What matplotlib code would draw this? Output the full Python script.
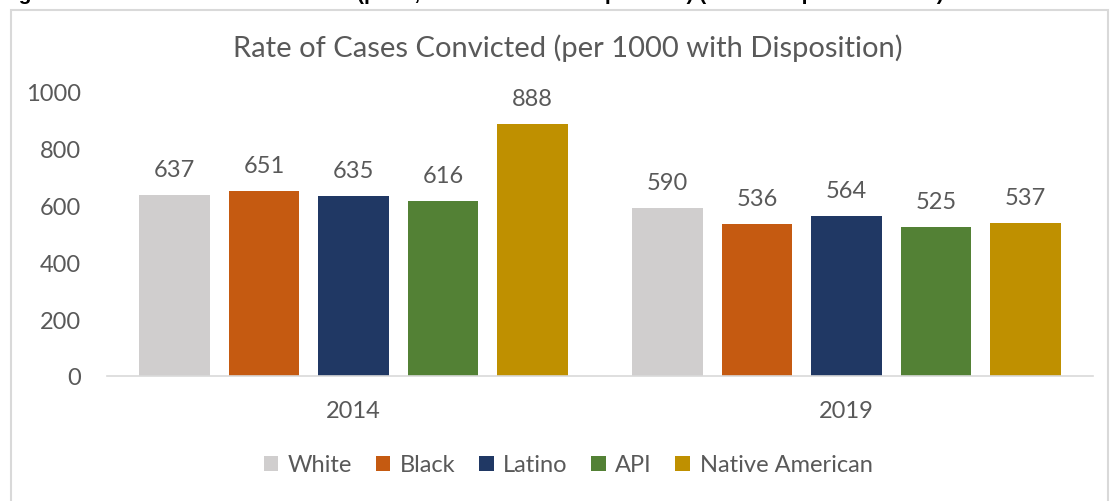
import matplotlib.pyplot as plt
import matplotlib.patches as mpatches
import numpy as np

years = ["2014", "2019"]
groups = ["White", "Black", "Latino", "API", "Native American"]
rates = {
    "White": [637, 590],
    "Black": [651, 536],
    "Latino": [635, 564],
    "API": [616, 525],
    "Native American": [888, 537],
}
colors = ["#D0CECE", "#C55A11", "#203864", "#538135", "#BF9000"]

plt.rcParams['font.family'] = ['Lato', 'DejaVu Sans']
text_color = "#595959"

fig = plt.figure(figsize=(11.1, 5.02), dpi=100)
ax = fig.add_axes([107 / 1110, 1 - 377 / 502, 986 / 1110, 284 / 502])

# outer chart border (Excel style)
fig.patches.append(mpatches.Rectangle((11 / 1110, -0.05), 1097 / 1110, 1 - 11 / 502 + 0.05,
                                      transform=fig.transFigure, fill=False,
                                      edgecolor="#D9D9D9", linewidth=1.5))

# document caption above the chart, cut off by the page edge as in the source
fig.text(0.0, 1 + 6 / 502, "Figure 23: Rate of Cases Convicted (per 1,000 cases with Disposition) (2014 compared to 2019)",
         fontsize=15, fontweight='bold', color='black', va='center', ha='left',
         family=['Liberation Sans', 'DejaVu Sans'])

x = np.arange(len(years))
step = 0.1815
width = 0.143
for i, (g, c) in enumerate(zip(groups, colors)):
    pos = x + (i - 2) * step
    bars = ax.bar(pos, rates[g], width=width, color=c, label=g)
    for b, v in zip(bars, rates[g]):
        ax.text(b.get_x() + b.get_width() / 2, v + 67, str(v), ha='center', va='baseline',
                fontsize=17, color=text_color, clip_on=False)

ax.set_xlim(-0.5, 1.5)
ax.set_ylim(0, 1000)
ax.set_yticks(range(0, 1001, 200))
ax.set_xticks(x)
ax.set_xticklabels(years)
ax.tick_params(axis='both', length=0, labelsize=17, colors=text_color)
ax.tick_params(axis='y', pad=19)
ax.tick_params(axis='x', pad=17)
for s in ['top', 'right', 'left']:
    ax.spines[s].set_visible(False)
ax.spines['bottom'].set_color("#D9D9D9")
ax.spines['bottom'].set_linewidth(1.2)

fig.text(568 / 1110, 1 - 48 / 502, "Rate of Cases Convicted (per 1000 with Disposition)",
         ha='center', va='center', fontsize=21, color=text_color)

leg = fig.legend(loc='center', bbox_to_anchor=(568 / 1110, 1 - 466 / 502), ncol=5, frameon=False,
                 fontsize=17, handlelength=0.62, handleheight=0.62, handletextpad=0.4,
                 columnspacing=1.0, labelcolor=text_color)

fig.savefig("out.png", dpi=100)
